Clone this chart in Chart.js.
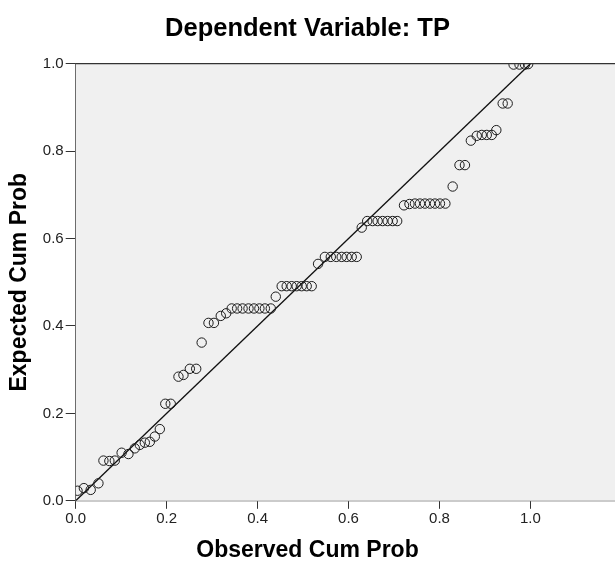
<!DOCTYPE html>
<html>
<head>
<meta charset="utf-8">
<script src="https://cdn.jsdelivr.net/npm/chart.js@4"></script>
<style>
  body { margin: 0; background: #fff; }
  #wrap { width: 615px; height: 568px; }
</style>
</head>
<body>
<div id="wrap"><canvas id="ppPlot"></canvas></div>
<script>
// observed vs expected cumulative probability
const observed = [
    0.004, 0.018, 0.033, 0.050, 0.061, 0.074, 0.086, 0.101, 0.116, 0.130,
    0.141, 0.152, 0.163, 0.174, 0.185, 0.197, 0.209, 0.226, 0.237, 0.251,
    0.265, 0.277, 0.292, 0.304, 0.319, 0.331, 0.343, 0.355, 0.367, 0.380,
    0.392, 0.404, 0.416, 0.429, 0.440, 0.453, 0.464, 0.475, 0.486, 0.497,
    0.508, 0.519, 0.533, 0.548, 0.561, 0.573, 0.585, 0.596, 0.607, 0.618,
    0.629, 0.641, 0.653, 0.664, 0.675, 0.686, 0.697, 0.707, 0.722, 0.734,
    0.746, 0.757, 0.768, 0.779, 0.790, 0.801, 0.813, 0.829, 0.844, 0.856,
    0.869, 0.882, 0.893, 0.904, 0.915, 0.925, 0.939, 0.950, 0.963, 0.976,
    0.988, 0.995
];
const expected = [
    0.023, 0.029, 0.025, 0.040, 0.092, 0.091, 0.092, 0.110, 0.107, 0.120,
    0.128, 0.133, 0.135, 0.147, 0.164, 0.222, 0.222, 0.284, 0.288, 0.302,
    0.302, 0.362, 0.407, 0.407, 0.423, 0.429, 0.440, 0.440, 0.440, 0.440,
    0.440, 0.440, 0.440, 0.440, 0.467, 0.491, 0.491, 0.491, 0.491, 0.491,
    0.491, 0.491, 0.542, 0.558, 0.558, 0.558, 0.558, 0.558, 0.558, 0.558,
    0.625, 0.640, 0.640, 0.640, 0.640, 0.640, 0.640, 0.640, 0.676, 0.679,
    0.680, 0.680, 0.680, 0.680, 0.680, 0.680, 0.680, 0.719, 0.768, 0.768,
    0.824, 0.835, 0.837, 0.837, 0.837, 0.848, 0.909, 0.909, 0.998, 0.998,
    0.998, 0.999
];
// reference line y = x
const diagX = [0, 1];
const diagY = [0, 1];

const xTicks = [0, 0.2, 0.4, 0.6, 0.8, 1.0];
const yTicks = [0, 0.2, 0.4, 0.6, 0.8, 1.0];

const fontFamily = '"Liberation Sans", Arial, sans-serif';
const axisColor = '#333';

const points = observed.map((x, i) => ({x: x, y: expected[i]}));
const diag = diagX.map((x, i) => ({x: x, y: diagY[i]}));

// grey plot background plus the frame line on top
const plotFrame = {
    id: 'plotFrame',
    beforeDatasetsDraw(chart) {
        const {ctx, chartArea: a} = chart;
        ctx.save();
        ctx.fillStyle = '#f0f0f0';
        ctx.fillRect(a.left, a.top, a.right - a.left, a.bottom - a.top);
        ctx.restore();
    },
    afterDraw(chart) {
        const {ctx, chartArea: a} = chart;
        ctx.save();
        ctx.strokeStyle = axisColor;
        ctx.lineWidth = 1.2;
        ctx.beginPath();
        ctx.moveTo(a.left, a.top);
        ctx.lineTo(a.right, a.top);
        ctx.stroke();
        ctx.restore();
    }
};

const ctx = document.getElementById('ppPlot').getContext('2d');
new Chart(ctx, {
    type: 'scatter',
    data: {
        datasets: [
            {
                label: 'Observed',
                data: points,
                pointStyle: 'circle',
                pointRadius: 4.7,
                pointBorderWidth: 1,
                pointBorderColor: '#1c1c1c',
                pointBackgroundColor: 'rgba(0,0,0,0)',
                clip: 0
            },
            {
                type: 'line',
                label: 'Diagonal',
                data: diag,
                borderColor: '#111',
                borderWidth: 1.3,
                pointRadius: 0,
                fill: false,
                tension: 0
            }
        ]
    },
    options: {
        responsive: true,
        maintainAspectRatio: false,
        animation: false,
        layout: {padding: 0, autoPadding: false},
        plugins: {
            legend: {display: false},
            tooltip: {enabled: false},
            title: {
                display: true,
                text: 'Dependent Variable: TP',
                color: '#000',
                font: {family: fontFamily, size: 25.5, weight: 'bold'},
                padding: {top: 13.7, bottom: 19.4}
            },
            subtitle: {
                display: true,
                position: 'bottom',
                text: 'Observed Cum Prob',
                color: '#000',
                font: {family: fontFamily, size: 23, weight: 'bold'},
                padding: {top: 6.4, bottom: 3.2}
            }
        },
        scales: {
            x: {
                type: 'linear',
                min: 0,
                max: 1.186,
                afterBuildTicks: (scale) => {
                    scale.ticks = xTicks.map(v => ({value: v}));
                },
                afterFit: (scale) => {
                    scale.height = 30;
                    scale.paddingLeft = 0;
                    scale.paddingRight = 0;
                },
                ticks: {
                    color: '#222',
                    padding: 1,
                    font: {family: fontFamily, size: 15},
                    maxRotation: 0,
                    callback: (v) => Number(v).toFixed(1)
                },
                grid: {drawOnChartArea: false, drawTicks: true, tickLength: 8, color: axisColor},
                border: {display: true, color: axisColor, width: 1.2}
            },
            y: {
                type: 'linear',
                min: 0,
                max: 1,
                afterBuildTicks: (scale) => {
                    scale.ticks = yTicks.map(v => ({value: v}));
                },
                afterFit: (scale) => {
                    scale.width = 75.7;
                    scale.paddingTop = 0;
                    scale.paddingBottom = 0;
                },
                ticks: {
                    color: '#222',
                    padding: 2,
                    font: {family: fontFamily, size: 15},
                    callback: (v) => Number(v).toFixed(1)
                },
                grid: {drawOnChartArea: false, drawTicks: true, tickLength: 10, color: axisColor},
                border: {display: true, color: axisColor, width: 1.2},
                title: {
                    display: true,
                    text: 'Expected Cum Prob',
                    color: '#000',
                    font: {family: fontFamily, size: 23, weight: 'bold'},
                    padding: {top: 6.2, bottom: 0}
                }
            }
        }
    },
    plugins: [plotFrame]
});
</script>
</body>
</html>
